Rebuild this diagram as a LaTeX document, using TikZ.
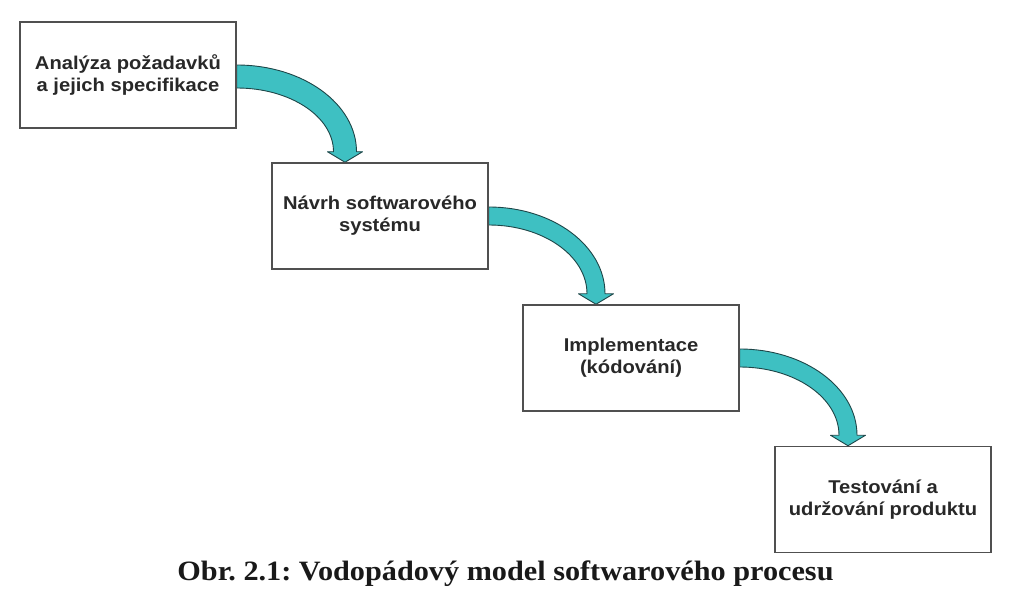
\documentclass[tikz,border=0pt]{standalone}
\usepackage{fontspec}
\setmainfont{Liberation Serif}
\newfontfamily\boxfont{Liberation Sans}
\usetikzlibrary{calc,backgrounds}
\definecolor{arrowfill}{RGB}{62,192,194}
\definecolor{arrowline}{RGB}{30,70,72}
\definecolor{boxline}{RGB}{80,80,80}
\definecolor{boxtext}{RGB}{40,40,40}
\definecolor{captext}{RGB}{25,25,25}
\frenchspacing
\newcommand\wideX[1]{\scalebox{1.09}[1]{#1}}
\newcommand\bentarrow[4]{% from, to, shaft width, top offset
  \path[flowarrow] let \p1=(#1.east), \p2=($(#2.north)+(-35,0)$),
    \n2={\y1+#4}, \n3={\y2+10.5}, \n4={\x2+#3/2-\x1}, \n5={\n2-\n3},
    \n6={\x2-#3/2-\x1}, \n7={\n2-#3-\n3} in
    (\x1,\n2) .. controls (\x1+0.5523*\n4,\n2) and (\x1+\n4,\n3+0.5523*\n5) .. (\x1+\n4,\n3)
    -- (\x2+17.5,\n3) -- (\x2,\y2) -- (\x2-17.5,\n3) -- (\x2-#3/2,\n3)
    .. controls (\x2-#3/2,\n3+0.5523*\n7) and (\x1+0.5523*\n6,\n2-#3) .. (\x1,\n2-#3) -- cycle;}
\begin{document}
\begin{tikzpicture}[x=1pt,y=1pt,
  stagebox/.style={draw=boxline, line width=1.5pt, fill=white, minimum width=216pt,
    minimum height=106pt, inner sep=0pt, align=center,
    font=\boxfont\bfseries\fontsize{18.5}{22}\selectfont, text=boxtext},
  flowarrow/.style={fill=arrowfill, draw=arrowline, line width=0.9pt, line join=round}]
\useasboundingbox (0,0) rectangle (1022,614);

\node[stagebox] (b1) at (128,539) {\wideX{Analýza požadavků}\\\wideX{a jejich specifikace}};
\node[stagebox] (b2) at (380,398) {\wideX{Návrh softwarového}\\\wideX{systému}};
\node[stagebox] (b3) at (631,256) {\wideX{Implementace}\\\wideX{(kódování)}};
\node[stagebox] (b4) at (883,114.5) {\wideX{Testování a}\\\wideX{udržování produktu}};

\begin{pgfonlayer}{background}
\fill[white] (0,0) rectangle (1022,614);
\bentarrow{b1}{b2}{23}{10}
\bentarrow{b2}{b3}{18}{9}
\bentarrow{b3}{b4}{18}{9}
\end{pgfonlayer}

\node[anchor=base, text=captext, font=\bfseries\fontsize{28}{30}\selectfont] (caption) at (505.5,34)
  {\scalebox{1.08}[1]{Obr. 2.1: Vodopádový model softwarového procesu}};
\end{tikzpicture}
\end{document}
